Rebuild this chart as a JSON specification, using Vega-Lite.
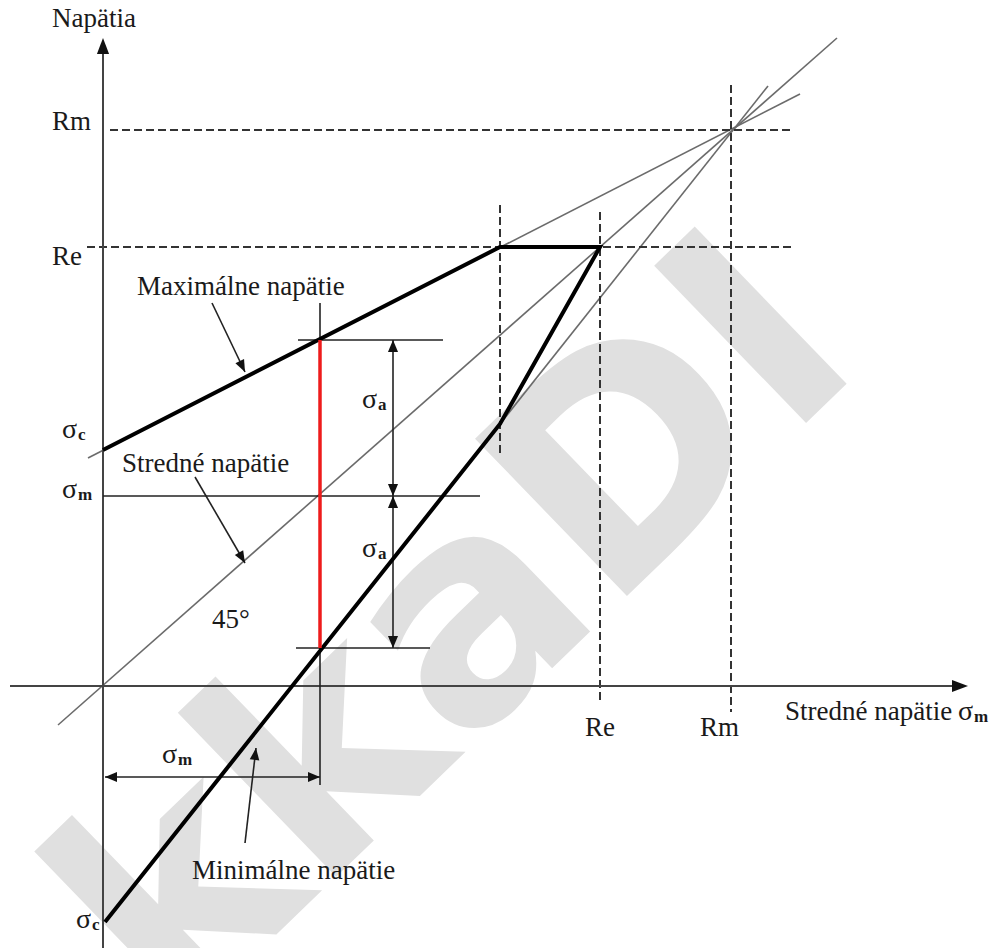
{
  "$schema": "https://vega.github.io/schema/vega-lite/v6.json",
  "width": 1004,
  "height": 948,
  "padding": 0,
  "autosize": {"type": "none"},
  "background": "white",
  "config": {"view": {"stroke": null}},
  "datasets": {
    "segs": [
      {"k": "axis", "x": 0, "y": -262, "x2": 0, "y2": 640},
      {"k": "axis", "x": -93, "y": 0, "x2": 855, "y2": 0},
      {"k": "dash", "x": 7, "y": 556, "x2": 689, "y2": 556},
      {"k": "dash", "x": -16, "y": 439, "x2": 689, "y2": 439},
      {"k": "dash", "x": 397, "y": 481, "x2": 397, "y2": 229},
      {"k": "dash", "x": 497, "y": 474, "x2": 497, "y2": -16},
      {"k": "dash", "x": 628, "y": 601, "x2": 628, "y2": -26},
      {"k": "thin", "x": -45, "y": -39, "x2": 734, "y2": 648},
      {"k": "thin", "x": -15, "y": 228, "x2": 697, "y2": 592},
      {"k": "thin", "x": 397, "y": 262, "x2": 665, "y2": 600},
      {"k": "fine", "x": 195, "y": 346, "x2": 340, "y2": 346},
      {"k": "fine", "x": 0, "y": 190, "x2": 377, "y2": 190},
      {"k": "fine", "x": 193, "y": 38, "x2": 327, "y2": 38},
      {"k": "fine", "x": 217, "y": 383, "x2": 217, "y2": -99},
      {"k": "fine", "x": 290, "y": 346, "x2": 290, "y2": 190},
      {"k": "fine", "x": 290, "y": 190, "x2": 290, "y2": 38},
      {"k": "fine", "x": 2, "y": -91, "x2": 217, "y2": -91},
      {"k": "fine", "x": 109, "y": 383, "x2": 142, "y2": 314},
      {"k": "fine", "x": 92, "y": 209, "x2": 142, "y2": 123},
      {"k": "fine", "x": 142, "y": -157, "x2": 153, "y2": -62},
      {"k": "red", "x": 217, "y": 346, "x2": 217, "y2": 38}
    ],
    "thick": [
      {"o": 1, "x": 0, "y": 236},
      {"o": 2, "x": 397, "y": 439},
      {"o": 3, "x": 497, "y": 439},
      {"o": 4, "x": 397, "y": 262},
      {"o": 5, "x": 2, "y": -236}
    ],
    "heads": [
      {"d": "upL", "x": 0, "y": 648},
      {"d": "rightL", "x": 865, "y": 0},
      {"d": "up", "x": 290, "y": 346},
      {"d": "up", "x": 290, "y": 190},
      {"d": "down", "x": 290, "y": 190},
      {"d": "down", "x": 290, "y": 38},
      {"d": "left", "x": 2, "y": -91},
      {"d": "right", "x": 217, "y": -91},
      {"d": "p1", "x": 142, "y": 314},
      {"d": "p2", "x": 142, "y": 123},
      {"d": "p3", "x": 153, "y": -62}
    ],
    "labels": [
      {"t": "Napätia", "x": -51, "y": 659},
      {"t": "Rm", "x": -51, "y": 556},
      {"t": "Re", "x": -51, "y": 421},
      {"t": "Maximálne napätie", "x": 34, "y": 391},
      {"t": "Stredné napätie", "x": 19, "y": 214},
      {"t": "45°", "x": 109, "y": 58},
      {"t": "Minimálne napätie", "x": 89, "y": -193},
      {"t": "Re", "x": 482, "y": -50},
      {"t": "Rm", "x": 597, "y": -50},
      {"t": "Stredné napätie", "x": 682, "y": -34}
    ],
    "sig": [
      {"s": "c", "x": -41, "y": 248},
      {"s": "m", "x": -41, "y": 188},
      {"s": "c", "x": -27, "y": -242},
      {"s": "a", "x": 259, "y": 278},
      {"s": "a", "x": 259, "y": 129},
      {"s": "m", "x": 59, "y": -77},
      {"s": "m", "x": 855, "y": -34}
    ]
  },
  "encoding": {
    "x": {"field": "x", "type": "quantitative", "scale": {"domain": [-103, 901], "nice": false, "zero": false}, "axis": null},
    "y": {"field": "y", "type": "quantitative", "scale": {"domain": [-262, 686], "nice": false, "zero": false}, "axis": null}
  },
  "layer": [
    {
      "data": {"values": [{"x": 355, "y": 52, "t": "kkaDI"}]},
      "mark": {"type": "text", "font": "DejaVu Sans", "fontWeight": "bold", "fontSize": 300, "angle": -44, "color": "#e0e0e0", "align": "center", "baseline": "middle"},
      "encoding": {"text": {"field": "t"}}
    },
    {
      "data": {"name": "segs"},
      "transform": [{"filter": "datum.k == 'thin'"}],
      "mark": {"type": "rule", "color": "#6b6b6b", "strokeWidth": 1.6},
      "encoding": {"x2": {"field": "x2"}, "y2": {"field": "y2"}}
    },
    {
      "data": {"name": "segs"},
      "transform": [{"filter": "datum.k == 'dash'"}],
      "mark": {"type": "rule", "color": "#333333", "strokeWidth": 2, "strokeDash": [8, 4]},
      "encoding": {"x2": {"field": "x2"}, "y2": {"field": "y2"}}
    },
    {
      "data": {"name": "segs"},
      "transform": [{"filter": "datum.k == 'axis'"}],
      "mark": {"type": "rule", "color": "#444444", "strokeWidth": 2},
      "encoding": {"x2": {"field": "x2"}, "y2": {"field": "y2"}}
    },
    {
      "data": {"name": "segs"},
      "transform": [{"filter": "datum.k == 'fine'"}],
      "mark": {"type": "rule", "color": "#222222", "strokeWidth": 1.6},
      "encoding": {"x2": {"field": "x2"}, "y2": {"field": "y2"}}
    },
    {
      "data": {"name": "thick"},
      "mark": {"type": "line", "color": "#000000", "strokeWidth": 4, "strokeJoin": "miter"},
      "encoding": {"order": {"field": "o"}}
    },
    {
      "data": {"name": "segs"},
      "transform": [{"filter": "datum.k == 'red'"}],
      "mark": {"type": "rule", "color": "#ee1c1c", "strokeWidth": 3.5},
      "encoding": {"x2": {"field": "x2"}, "y2": {"field": "y2"}}
    },
    {
      "data": {"name": "heads"},
      "transform": [{"filter": "datum.d == 'upL'"}],
      "mark": {"type": "point", "shape": "M0,0L-0.38,1L0.38,1Z", "filled": true, "color": "#111111", "opacity": 1, "size": 1024, "angle": 0}
    },
    {
      "data": {"name": "heads"},
      "transform": [{"filter": "datum.d == 'rightL'"}],
      "mark": {"type": "point", "shape": "M0,0L-0.38,1L0.38,1Z", "filled": true, "color": "#111111", "opacity": 1, "size": 1024, "angle": 90}
    },
    {
      "data": {"name": "heads"},
      "transform": [{"filter": "datum.d == 'up'"}],
      "mark": {"type": "point", "shape": "M0,0L-0.42,1L0.42,1Z", "filled": true, "color": "#111111", "opacity": 1, "size": 576, "angle": 0}
    },
    {
      "data": {"name": "heads"},
      "transform": [{"filter": "datum.d == 'down'"}],
      "mark": {"type": "point", "shape": "M0,0L-0.42,1L0.42,1Z", "filled": true, "color": "#111111", "opacity": 1, "size": 576, "angle": 180}
    },
    {
      "data": {"name": "heads"},
      "transform": [{"filter": "datum.d == 'left'"}],
      "mark": {"type": "point", "shape": "M0,0L-0.42,1L0.42,1Z", "filled": true, "color": "#111111", "opacity": 1, "size": 576, "angle": 270}
    },
    {
      "data": {"name": "heads"},
      "transform": [{"filter": "datum.d == 'right'"}],
      "mark": {"type": "point", "shape": "M0,0L-0.42,1L0.42,1Z", "filled": true, "color": "#111111", "opacity": 1, "size": 576, "angle": 90}
    },
    {
      "data": {"name": "heads"},
      "transform": [{"filter": "datum.d == 'p1'"}],
      "mark": {"type": "point", "shape": "M0,0L-0.4,1L0.4,1Z", "filled": true, "color": "#111111", "opacity": 1, "size": 576, "angle": 154}
    },
    {
      "data": {"name": "heads"},
      "transform": [{"filter": "datum.d == 'p2'"}],
      "mark": {"type": "point", "shape": "M0,0L-0.4,1L0.4,1Z", "filled": true, "color": "#111111", "opacity": 1, "size": 576, "angle": 150}
    },
    {
      "data": {"name": "heads"},
      "transform": [{"filter": "datum.d == 'p3'"}],
      "mark": {"type": "point", "shape": "M0,0L-0.4,1L0.4,1Z", "filled": true, "color": "#111111", "opacity": 1, "size": 576, "angle": 7}
    },
    {
      "data": {"name": "labels"},
      "mark": {"type": "text", "font": "Times New Roman, Liberation Serif, DejaVu Serif, serif", "fontSize": 27, "color": "#1a1a1a", "align": "left", "baseline": "alphabetic"},
      "encoding": {"text": {"field": "t"}}
    },
    {
      "data": {"name": "sig"},
      "mark": {"type": "text", "font": "Times New Roman, Liberation Serif, DejaVu Serif, serif", "fontSize": 28, "color": "#1a1a1a", "align": "left", "baseline": "alphabetic"},
      "encoding": {"text": {"value": "σ"}}
    },
    {
      "data": {"name": "sig"},
      "mark": {"type": "text", "font": "Times New Roman, Liberation Serif, DejaVu Serif, serif", "fontSize": 17, "fontWeight": "bold", "color": "#1a1a1a", "align": "left", "baseline": "alphabetic", "dx": 16, "dy": 2},
      "encoding": {"text": {"field": "s"}}
    }
  ]
}
